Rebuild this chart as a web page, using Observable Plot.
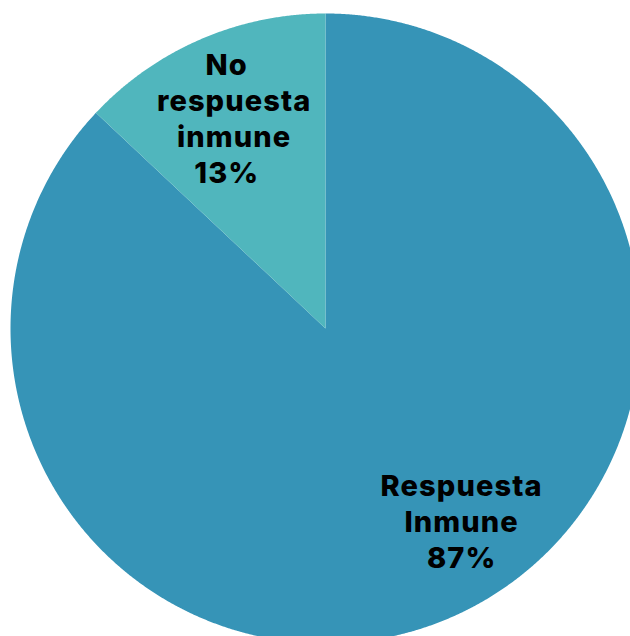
<!DOCTYPE html>
<html>
<head>
<meta charset="utf-8">
<script src="https://cdn.jsdelivr.net/npm/d3@7"></script>
<script src="https://cdn.jsdelivr.net/npm/@observablehq/plot@0.6"></script>
<style>
  html, body { margin: 0; padding: 0; background: #ffffff; }
  #chart svg { display: block; }
  #chart svg text { letter-spacing: 1.1px; }
</style>
</head>
<body>
<div id="chart"></div>
<script>
// Categories and their shares (%)
const categories = ["Respuesta Inmune", "No respuesta inmune"];
const values = [87, 13];
const labelLines = [["Respuesta", "Inmune"], ["No\u00a0\u00a0", "respuesta", "inmune", "13%\u00a0\u00a0"]];
const colors = ["#3694b7", "#50b6bd"];

const slices = categories.map((name, i) => ({name, value: values[i], color: colors[i], lines: labelLines[i]}));

// Pie geometry in data units (radius R around the origin)
const R = 315;
const arcs = d3.pie().sort(null).value(d => d.value)(slices);

// Sample each wedge as a closed polygon: centre, then the arc
const wedgePoints = arcs.flatMap(a => {
  const pts = [{name: a.data.name, x: 0, y: 0}];
  const n = Math.max(2, Math.ceil((a.endAngle - a.startAngle) / (Math.PI / 720)));
  for (let k = 0; k <= n; ++k) {
    const t = a.startAngle + (a.endAngle - a.startAngle) * k / n;
    pts.push({name: a.data.name, x: R * Math.sin(t), y: R * Math.cos(t)});
  }
  pts.push({name: a.data.name, x: 0, y: 0});
  return pts;
});

// Label placement: radius fraction and angular shift from each wedge's mid-angle
const labelLayout = {
  "Respuesta Inmune": {radius: 0.746, shift: -12 * Math.PI / 180},
  "No respuesta inmune": {radius: 0.73, shift: 0}
};
const labels = arcs.map(a => {
  const L = labelLayout[a.data.name];
  const t = (a.startAngle + a.endAngle) / 2 + L.shift;
  const lines = a.data.lines.slice();
  if (a.data.name === "Respuesta Inmune") lines.push(`${a.data.value}%`);
  return {
    text: lines.join("\n"),
    x: R * L.radius * Math.sin(t),
    y: R * L.radius * Math.cos(t)
  };
});

const chart = Plot.plot({
  width: 630,
  height: 636,
  margin: 0,
  x: {domain: [-325, 305], axis: null},
  y: {domain: [-308, 328], axis: null},
  color: {domain: categories, range: colors},
  marks: [
    Plot.line(wedgePoints, {x: "x", y: "y", z: "name", fill: "name", stroke: "none", curve: "linear"}),
    Plot.text(labels, {
      x: "x", y: "y", text: "text",
      fontSize: 29, fontWeight: 800, fontFamily: "Inter, 'DejaVu Sans', sans-serif",
      lineHeight: 1.24, fill: "#000000", textAnchor: "middle"
    })
  ]
});

document.getElementById("chart").appendChild(chart);
</script>
</body>
</html>
